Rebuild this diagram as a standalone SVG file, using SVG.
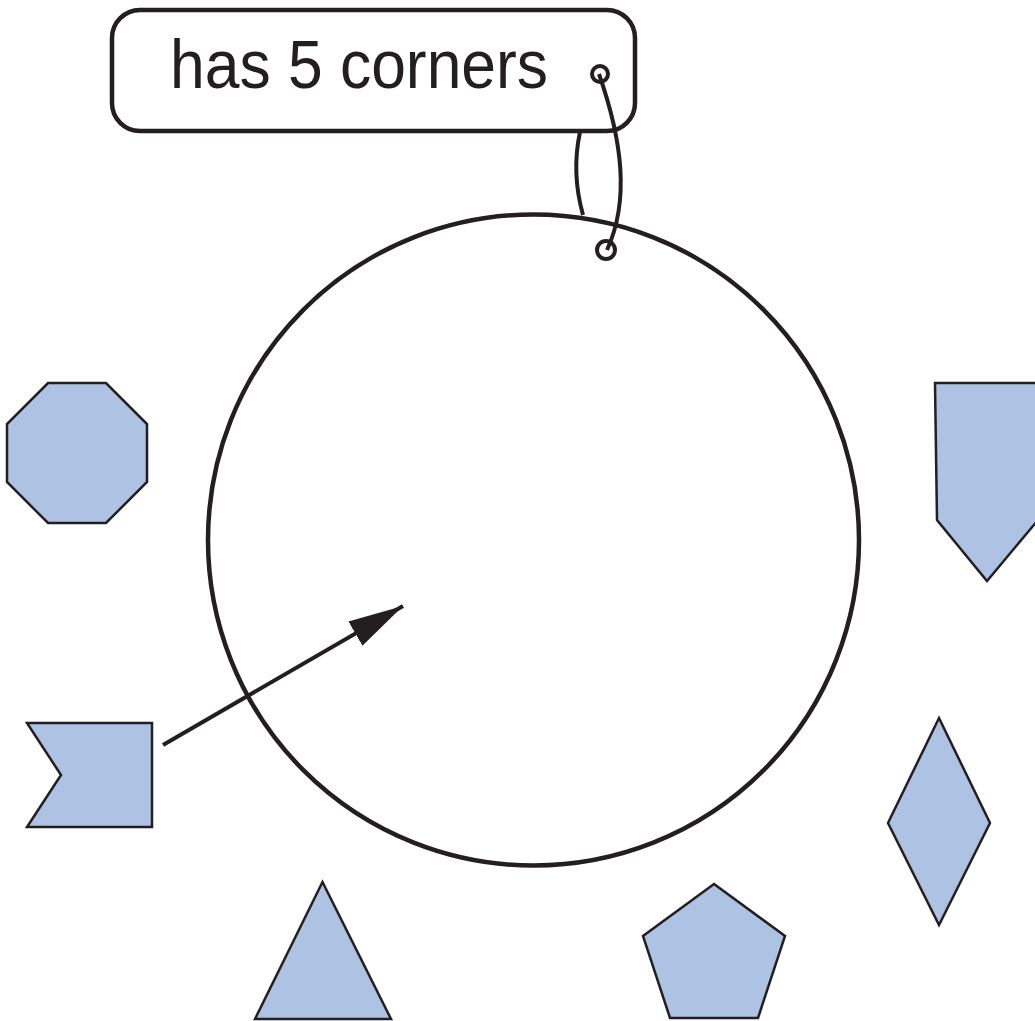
<svg xmlns="http://www.w3.org/2000/svg" width="1035" height="1021" viewBox="0 0 1035 1021">
<style>
.shape{fill:#aec2e3;stroke:#231f20;stroke-width:2.5;stroke-linejoin:miter}
.line{fill:none;stroke:#231f20;stroke-width:4}
.label{font-family:"Liberation Sans",Arial,sans-serif;font-size:68px;fill:#231f20}
</style>
<defs>
<marker id="ah" markerUnits="userSpaceOnUse" markerWidth="60" markerHeight="40" refX="55" refY="14" orient="auto">
<path d="M0,0 L55,14 L0,28 Z" fill="#231f20"/>
</marker>
</defs>
<rect width="1035" height="1021" fill="#ffffff"/>
<g id="circle">
<circle cx="533.5" cy="540" r="325.5" fill="none" stroke="#231f20" stroke-width="4.5"/>
</g>
<g id="label">
<rect x="112" y="10" width="523" height="121" rx="28" fill="none" stroke="#231f20" stroke-width="4.5"/>
<text class="label" x="170" y="88" textLength="378" lengthAdjust="spacingAndGlyphs">has 5 corners</text>
</g>
<g id="octagon"><polygon class="shape" points="48,383 106,383 147,424 147,482 106,523 48,523 7,482 7,424"/></g>
<g id="flag"><polygon class="shape" points="27,723 152,723 152,827 27,827 61,775"/></g>
<g id="triangle"><polygon class="shape" points="322.5,882 391,1019 255,1019"/></g>
<g id="pentagon"><polygon class="shape" points="714,884 785,936 758,1018 670,1018 643,936"/></g>
<g id="diamond"><polygon class="shape" points="939,718 990,823 939,925 888,823"/></g>
<g id="shield"><polygon class="shape" points="935,383 1040,383 1038,520 987,581 937,520"/></g>
<g id="connectors">
<line class="line" x1="163" y1="745" x2="403" y2="606" marker-end="url(#ah)" stroke-width="5"/>
<path class="line" d="M580,132 C574,160 576,190 583,215"/>
<path class="line" d="M599,74 C622,140 630,200 607,250"/>
<circle cx="600" cy="74" r="8" fill="none" stroke="#231f20" stroke-width="4"/>
<circle cx="606" cy="250" r="9" fill="none" stroke="#231f20" stroke-width="4"/>
</g>
</svg>
